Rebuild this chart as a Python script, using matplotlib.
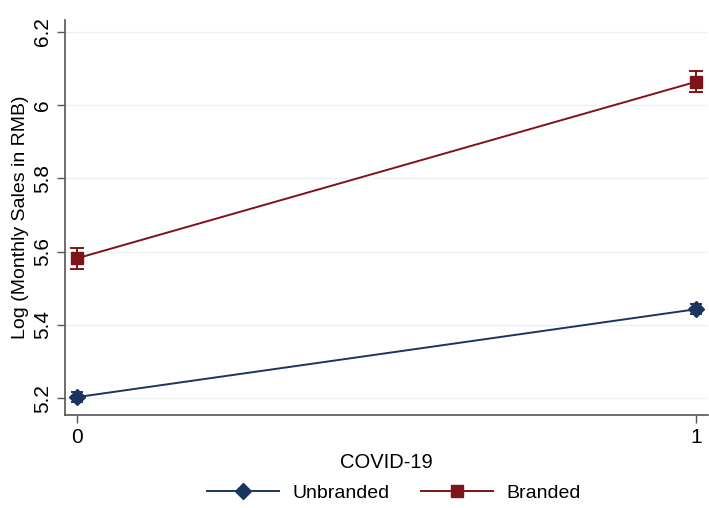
import matplotlib.pyplot as plt
from matplotlib.lines import Line2D

plt.rcParams['font.family'] = ['Liberation Sans', 'DejaVu Sans']

covid = [0, 1]
unbranded = [5.203, 5.443]
unbranded_err = [0.013, 0.013]
branded = [5.582, 6.064]
branded_err = [0.028, 0.029]
yticks = [5.2, 5.4, 5.6, 5.8, 6.0, 6.2]
ytick_labels = ['5.2', '5.4', '5.6', '5.8', '6', '6.2']

navy = '#1a3560'
maroon = '#7c1419'

fig = plt.figure(figsize=(7.09, 5.08), dpi=100)
ax = fig.add_axes([0.092, 0.183, 0.907, 0.778])

for y in yticks:
    ax.axhline(y, color='#eaf2f6', lw=1.0, zorder=0)

ax.errorbar(covid, unbranded, yerr=unbranded_err, color=navy, marker='D',
            markersize=8, lw=1.4, capsize=4, elinewidth=1.4, capthick=1.4)
ax.errorbar(covid, branded, yerr=branded_err, color=maroon, marker='s',
            markersize=8, lw=1.4, capsize=5, elinewidth=1.4, capthick=1.4)

ax.set_xlim(-0.0194, 1.0194)
ax.set_ylim(5.154, 6.233)
ax.set_xticks(covid)
ax.set_yticks(yticks)
ax.set_yticklabels(ytick_labels, rotation=90, va='center')
ax.tick_params(labelsize=15, color='#555555', length=6, width=1)
ax.set_xlabel('COVID-19', fontsize=14.5)
ax.set_ylabel('Log (Monthly Sales in RMB)', fontsize=14)
ax.yaxis.set_label_coords(-0.056, 0.5)

for side in ['top', 'right']:
    ax.spines[side].set_visible(False)
for side in ['left', 'bottom']:
    ax.spines[side].set_color('#555555')
    ax.spines[side].set_linewidth(1.2)

# legend keys: plain line with marker, no error bars
handles = [
    Line2D([], [], color=navy, marker='D', markersize=8, lw=1.4),
    Line2D([], [], color=maroon, marker='s', markersize=8, lw=1.4),
]
fig.legend(handles, ['Unbranded', 'Branded'], loc='center',
           bbox_to_anchor=(0.556, 0.03), ncol=2, frameon=False, fontsize=14,
           handlelength=3.7, handletextpad=0.7, columnspacing=1.6)

fig.savefig('out.png', dpi=100)
